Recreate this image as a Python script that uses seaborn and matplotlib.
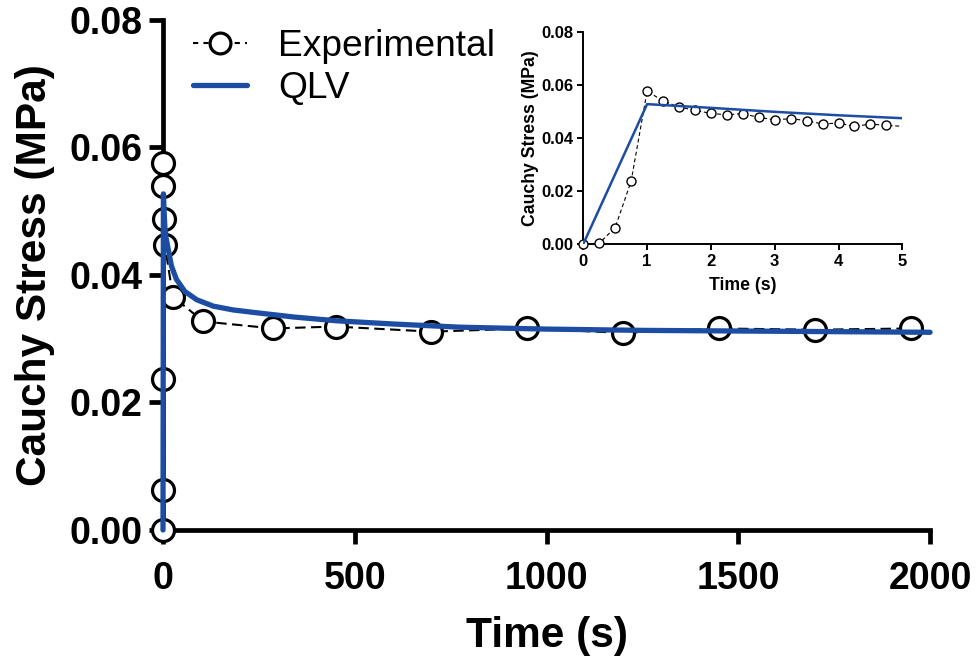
import numpy as np
import pandas as pd
import matplotlib
matplotlib.use("Agg")
import matplotlib.pyplot as plt
from matplotlib.lines import Line2D
from matplotlib.ticker import FormatStrFormatter
import seaborn as sns

# ---- data -------------------------------------------------------------
# full relaxation record (s, MPa)
exp_time = [0, 0.5, 0.75, 1.0, 1.25, 2.25, 4.75, 26, 105, 288, 450, 700,
            950, 1200, 1450, 1700, 1950]
exp_stress = [0.0, 0.0062, 0.0237, 0.0576, 0.0539, 0.0488, 0.0447, 0.0366,
              0.0327, 0.0316, 0.0319, 0.0311, 0.0316, 0.0309, 0.0316,
              0.0314, 0.0316]

# QLV model prediction (s, MPa)
qlv_time = [0, 1, 2, 3, 4, 5, 8, 14, 22, 35, 57, 88, 131, 183, 253, 340,
            453, 600, 774, 1000, 1250, 1500, 1750, 2000]
qlv_stress = [0.0, 0.0527, 0.0513, 0.0498, 0.0485, 0.0474, 0.0458, 0.0439,
              0.0414, 0.0393, 0.0374, 0.0361, 0.0351, 0.0345, 0.0340,
              0.0334, 0.0328, 0.0323, 0.0318, 0.0315, 0.0313, 0.0312,
              0.0311, 0.0310]

# first seconds of the record, ramp + early relaxation (s, MPa)
ramp_time = [0, 0.25, 0.5, 0.75, 1.0, 1.25, 1.5, 1.75, 2.0, 2.25, 2.5, 2.75,
             3.0, 3.25, 3.5, 3.75, 4.0, 4.25, 4.5, 4.75, 5.25]
ramp_stress = [0.0, 0.0003, 0.0062, 0.0237, 0.0576, 0.0539, 0.0516, 0.0504,
               0.0492, 0.0487, 0.0491, 0.0477, 0.0468, 0.0472, 0.0465,
               0.0452, 0.0456, 0.0443, 0.0452, 0.0447, 0.0440]

main_xticks = [0, 500, 1000, 1500, 2000]
main_yticks = [0.00, 0.02, 0.04, 0.06, 0.08]
inset_xticks = [0, 1, 2, 3, 4, 5]

exp_df = pd.DataFrame({"time": exp_time, "stress": exp_stress})
qlv_df = pd.DataFrame({"time": qlv_time, "stress": qlv_stress})
ramp_df = pd.DataFrame({"time": ramp_time, "stress": ramp_stress})

# ---- style ------------------------------------------------------------
sns.set_style("ticks")
plt.rcParams["font.family"] = ["Liberation Sans", "DejaVu Sans"]
plt.rcParams["text.color"] = "black"
plt.rcParams["axes.labelcolor"] = "black"
plt.rcParams["xtick.color"] = "black"
plt.rcParams["ytick.color"] = "black"
plt.rcParams["axes.edgecolor"] = "black"

BLUE = "#1c4da3"

fig = plt.figure(figsize=(9.79, 6.6), dpi=100)
ax = fig.add_axes([0.1665, 0.197, 0.7835, 0.773])

# experimental: dashed connecting line + open circles
sns.lineplot(data=exp_df, x="time", y="stress", ax=ax, color="black",
             linestyle=(0, (5, 2.6)), linewidth=1.5, zorder=2,
             estimator=None, sort=False)
sns.scatterplot(data=exp_df, x="time", y="stress", ax=ax, marker="o",
                s=250, facecolor="white", edgecolor="black", linewidth=2.3,
                zorder=3, clip_on=False)
# QLV model
sns.lineplot(data=qlv_df, x="time", y="stress", ax=ax, color=BLUE,
             linewidth=3.8, zorder=4, estimator=None, sort=False,
             clip_on=False, solid_joinstyle="round")

ax.set_xlim(0, 2000)
ax.set_ylim(0, 0.08)
ax.set_xticks(main_xticks)
ax.set_yticks(main_yticks)
ax.yaxis.set_major_formatter(FormatStrFormatter("%.2f"))
sns.despine(ax=ax)
for side in ("left", "bottom"):
    ax.spines[side].set_linewidth(3.4)
    ax.spines[side].set_zorder(1)
ax.tick_params(axis="both", which="major", length=10, width=3.4,
               color="black", labelsize=27)
ax.tick_params(axis="x", pad=12)
ax.tick_params(axis="y", pad=5)
for lbl in ax.get_xticklabels() + ax.get_yticklabels():
    lbl.set_fontweight("bold")
ax.set_xlabel("Time (s)", fontsize=30.5, fontweight="bold", labelpad=14)
ax.set_ylabel("Cauchy Stress (MPa)", fontsize=30.5, fontweight="bold",
              labelpad=10)

handles = [
    Line2D([], [], color="black", linestyle=(0, (2.5, 2.5)), linewidth=1.5,
           marker="o", markersize=15, markerfacecolor="white",
           markeredgecolor="black", markeredgewidth=2.3),
    Line2D([], [], color=BLUE, linewidth=3.8),
]
ax.legend(handles, ["Experimental", "QLV"], loc="upper left",
          bbox_to_anchor=(0.02, 1.012), frameon=False, fontsize=26.7,
          handlelength=1.45, handletextpad=0.85, labelspacing=0.2,
          borderaxespad=0.0)

# ---- inset: ramp phase -------------------------------------------------
ins = fig.add_axes([0.5958, 0.6303, 0.3259, 0.3217])
sns.lineplot(data=ramp_df, x="time", y="stress", ax=ins, color="black",
             linestyle=(0, (3.5, 2.5)), linewidth=0.8, zorder=2,
             estimator=None, sort=False)
shown = ramp_df[ramp_df["time"] <= 5]
sns.scatterplot(data=shown, x="time", y="stress", ax=ins, marker="o",
                s=42, facecolor="white", edgecolor="black", linewidth=1.0,
                zorder=3, clip_on=False)
sns.lineplot(data=qlv_df, x="time", y="stress", ax=ins, color=BLUE,
             linewidth=1.8, zorder=4, estimator=None, sort=False)

ins.set_xlim(0, 5)
ins.set_ylim(0, 0.08)
ins.set_xticks(inset_xticks)
ins.set_yticks(main_yticks)
ins.yaxis.set_major_formatter(FormatStrFormatter("%.2f"))
sns.despine(ax=ins)
for side in ("left", "bottom"):
    ins.spines[side].set_linewidth(1.4)
    ins.spines[side].set_zorder(1)
ins.tick_params(axis="both", which="major", length=4, width=1.4,
                color="black", labelsize=12, pad=3)
for lbl in ins.get_xticklabels() + ins.get_yticklabels():
    lbl.set_fontweight("bold")
ins.set_xlabel("Time (s)", fontsize=12.7, fontweight="bold", labelpad=6)
ins.set_ylabel("Cauchy Stress (MPa)", fontsize=12.7, fontweight="bold",
               labelpad=2)

fig.savefig("out.png", dpi=100)
